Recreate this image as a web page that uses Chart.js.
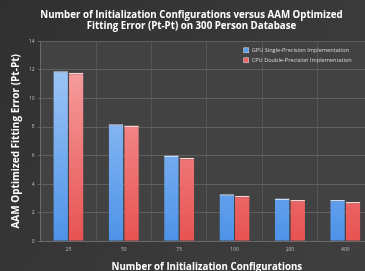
<!DOCTYPE html>
<html>
<head>
<meta charset="utf-8">
<script src="https://cdn.jsdelivr.net/npm/chart.js@4/dist/chart.umd.min.js"></script>
<style>
  html, body { margin: 0; padding: 0; overflow: hidden; background: #363636; }
  #wrap { width: 385px; height: 273px; }
</style>
</head>
<body>
<div id="wrap"><canvas id="myBarChart"></canvas></div>
<script>
const categories = ['25', '50', '75', '100', '200', '400'];
const gpuSingle = [11.9, 8.2, 6.0, 3.3, 3.0, 2.9];
const cpuDouble = [11.8, 8.1, 5.85, 3.2, 2.9, 2.75];
const seriesNames = ['GPU Single-Precision Implementation', 'CPU Double-Precision Implementation'];

function barFill(top, bottom) {
    return function (ctx) {
        const area = ctx.chart.chartArea;
        if (!area) return bottom;
        const g = ctx.chart.ctx.createLinearGradient(0, area.top, 0, area.bottom);
        g.addColorStop(0, top);
        g.addColorStop(1, bottom);
        return g;
    };
}

// fondo oscuro de la diapositiva
const bgPlugin = {
    id: 'bg',
    beforeDraw(chart) {
        const c = chart.ctx;
        const g = c.createLinearGradient(0, 0, chart.width, chart.height);
        g.addColorStop(0, '#303030');
        g.addColorStop(1, '#404040');
        c.save();
        c.fillStyle = g;
        c.fillRect(0, 0, chart.width, chart.height);
        const a = chart.chartArea;
        c.fillStyle = '#424242';
        c.fillRect(a.left, a.top, a.right - a.left, a.bottom - a.top);
        c.restore();
    }
};

// leyenda dentro del área del gráfico, arriba a la derecha
const legendPlugin = {
    id: 'boxLegend',
    afterDatasetsDraw(chart) {
        const c = chart.ctx;
        const a = chart.chartArea;
        const colors = ['#5a9ef0', '#ee6262'];
        c.save();
        c.font = '5.6px "Open Sans", sans-serif';
        c.textBaseline = 'middle';
        seriesNames.forEach((name, i) => {
            const x = a.left + 203;
            const y = a.top + 9 + i * 10;
            c.fillStyle = colors[i];
            c.strokeStyle = '#cfcfcf';
            c.lineWidth = 0.6;
            c.fillRect(x, y - 2.5, 5, 5);
            c.strokeRect(x, y - 2.5, 5, 5);
            c.fillStyle = '#d8d8d8';
            c.fillText(name, x + 8, y);
        });
        c.restore();
    }
};

new Chart(document.getElementById('myBarChart'), {
    type: 'bar',
    data: {
        labels: categories,
        datasets: [{
            label: seriesNames[0],
            data: gpuSingle,
            backgroundColor: barFill('#a9cdf8', '#4d92e8'),
            borderColor: '#c6def9',
            borderWidth: { top: 1.5, left: 0, right: 0, bottom: 0 },
            borderSkipped: false,
            categoryPercentage: 0.56,
            barPercentage: 0.94
        }, {
            label: seriesNames[1],
            data: cpuDouble,
            backgroundColor: barFill('#f8a9a9', '#e85252'),
            borderColor: '#fbd0d0',
            borderWidth: { top: 1.5, left: 0, right: 0, bottom: 0 },
            borderSkipped: false,
            categoryPercentage: 0.56,
            barPercentage: 0.94
        }]
    },
    options: {
        responsive: true,
        maintainAspectRatio: false,
        animation: false,
        layout: { padding: { top: 4, right: 12, left: 10, bottom: 0 } },
        scales: {
            x: {
                grid: { color: 'rgba(90,90,90,0.8)', lineWidth: 1, drawTicks: false },
                border: { color: '#6a6a6a' },
                ticks: { color: '#bdbdbd', font: { size: 5, family: 'Open Sans' }, padding: 5 },
                title: {
                    display: true,
                    text: 'Number of Initialization Configurations',
                    color: '#ffffff',
                    font: { size: 9.7, weight: 'bold', family: 'Open Sans' },
                    padding: { top: 4, bottom: 0 }
                }
            },
            y: {
                min: 0,
                max: 14,
                grid: { color: '#5f5f5f', lineWidth: 1, drawTicks: true, tickLength: 3 },
                border: { color: '#6a6a6a' },
                ticks: { stepSize: 2, color: '#bdbdbd', font: { size: 5, family: 'Open Sans' }, padding: 3 },
                title: {
                    display: true,
                    text: 'AAM Optimized Fitting Error (Pt-Pt)',
                    color: '#ffffff',
                    font: { size: 10, weight: 'bold', family: 'Open Sans' },
                    padding: { top: 0, bottom: 4 }
                }
            }
        },
        plugins: {
            title: {
                display: true,
                text: ['Number of Initialization Configurations versus AAM Optimized',
                       'Fitting Error (Pt-Pt) on 300 Person Database'],
                color: '#ffffff',
                font: { size: 9.7, weight: 'bold', family: 'Open Sans' },
                padding: { top: 5, bottom: 9 },
                lineHeight: 1.75
            },
            legend: { display: false },
            tooltip: { enabled: false }
        }
    },
    plugins: [bgPlugin, legendPlugin]
});
</script>
</body>
</html>
